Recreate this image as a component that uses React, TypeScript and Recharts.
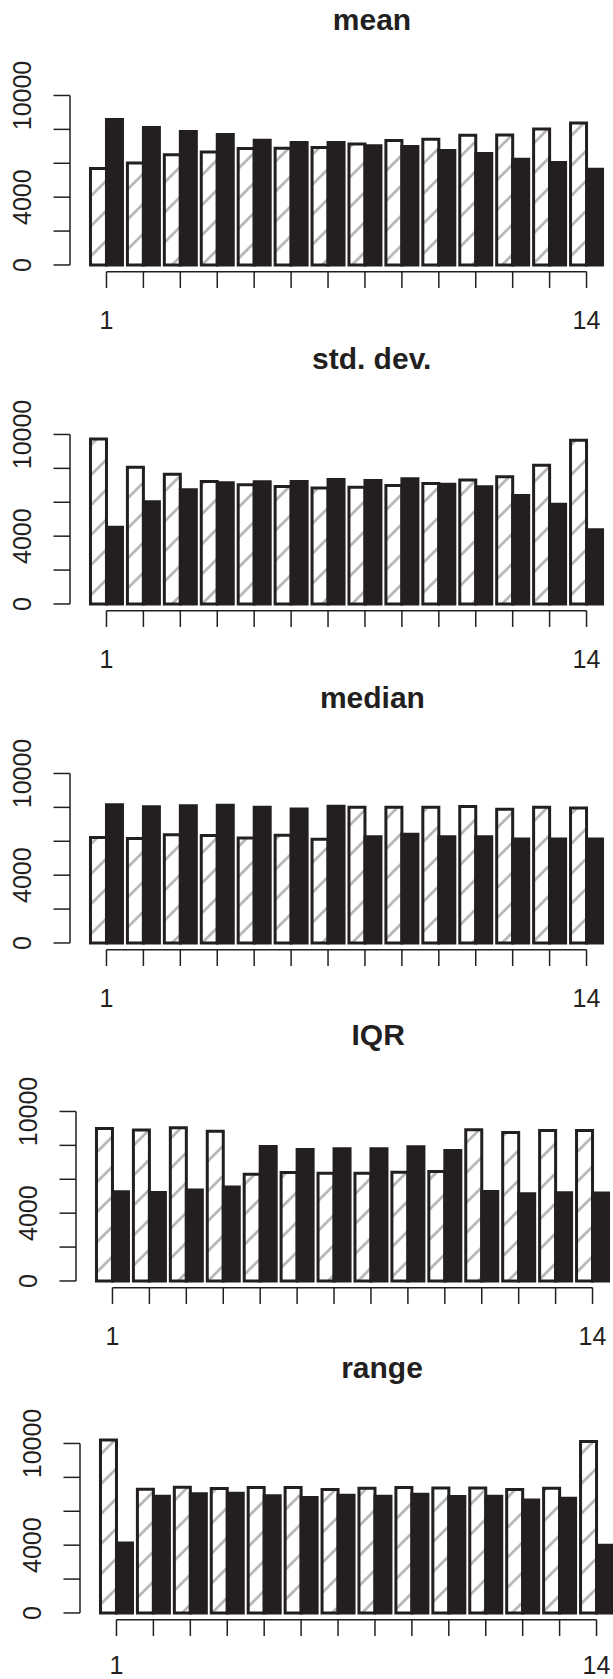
import React from 'react';
import { BarChart, Bar, XAxis, YAxis } from 'recharts';

// ---------- data ----------
const CATEGORIES = ['1', '2', '3', '4', '5', '6', '7', '8', '9', '10', '11', '12', '13', '14'];
const X_LABELS_SHOWN = ['1', '14'];
const Y_TICKS = [0, 2000, 4000, 6000, 8000, 10000];
const Y_LABELS_SHOWN = [0, 4000, 10000];
const PANEL_TITLES = ['mean', 'std. dev.', 'median', 'IQR', 'range'];

const meanHatched = [5690, 6020, 6500, 6670, 6870, 6890, 6930, 7140, 7340, 7420, 7650, 7670, 8020, 8380];
const meanSolid = [8580, 8110, 7880, 7700, 7360, 7220, 7220, 7030, 6990, 6750, 6580, 6240, 6040, 5650];

const sdHatched = [9740, 8070, 7660, 7230, 7030, 6930, 6840, 6890, 6990, 7110, 7310, 7500, 8190, 9660];
const sdSolid = [4520, 6030, 6740, 7150, 7210, 7230, 7350, 7290, 7390, 7070, 6910, 6400, 5890, 4380];

const medianHatched = [6220, 6160, 6380, 6340, 6200, 6360, 6120, 8010, 8010, 8010, 8050, 7890, 8010, 7970];
const medianSolid = [8150, 8030, 8090, 8130, 8010, 7910, 8070, 6260, 6420, 6260, 6260, 6140, 6140, 6140];

const iqrHatched = [9000, 8900, 9040, 8840, 6290, 6400, 6360, 6360, 6420, 6460, 8920, 8760, 8880, 8880];
const iqrSolid = [5260, 5220, 5360, 5540, 7940, 7760, 7800, 7800, 7920, 7700, 5280, 5150, 5200, 5190];

const rangeHatched = [10200, 7300, 7420, 7340, 7400, 7400, 7280, 7360, 7400, 7380, 7380, 7280, 7360, 10120];
const rangeSolid = [4130, 6890, 7030, 7070, 6910, 6810, 6950, 6890, 7010, 6870, 6890, 6670, 6770, 3990];

const SERIES_HATCHED = [meanHatched, sdHatched, medianHatched, iqrHatched, rangeHatched];
const SERIES_SOLID = [meanSolid, sdSolid, medianSolid, iqrSolid, rangeSolid];

// ---------- style / layout ----------
const INK = '#231f20';
const HATCH_COLOR = '#b8b8b8';
const FONT = '"Liberation Sans", Arial, Helvetica, sans-serif';
const PX_PER_10K = 169.5;
const Y_MAX = 10500;
const PLOT_H = (PX_PER_10K * Y_MAX) / 10000;
const TOP_M = 40;
const X_AXIS_H = 76;
const CHART_H = TOP_M + PLOT_H + X_AXIS_H;
const CHART_W = 613;
const Y_AXIS_W = 70;
const HATCH = 30;
const PANEL_LAYOUT = [
  { zero: 265, axisX: 70, labelDy: 64 },
  { zero: 604, axisX: 69.7, labelDy: 64 },
  { zero: 943, axisX: 70.4, labelDy: 64 },
  { zero: 1280.7, axisX: 76.2, labelDy: 64 },
  { zero: 1613.3, axisX: 80, labelDy: 61 },
];

function makeYTick() {
  const ys: number[] = [];
  return (props: any) => {
    const { x, y, payload, index, visibleTicksCount } = props;
    ys[index] = y;
    const last = index === visibleTicksCount - 1;
    let axisLine = null;
    if (last) {
      const vals = ys.filter((v) => typeof v === 'number');
      axisLine = (
        <line x1={x} x2={x} y1={Math.min(...vals)} y2={Math.max(...vals)} stroke={INK} strokeWidth={1.5} />
      );
    }
    const show = Y_LABELS_SHOWN.includes(payload.value);
    return (
      <g>
        <line x1={x - 16.5} x2={x} y1={y} y2={y} stroke={INK} strokeWidth={1.5} />
        {axisLine}
        {show && (
          <text
            x={x - 39}
            y={y}
            transform={`rotate(-90 ${x - 39} ${y})`}
            textAnchor="middle"
            fontSize={25}
            fontFamily={FONT}
            fill={INK}
          >
            {String(payload.value)}
          </text>
        )}
      </g>
    );
  };
}

function makeXTick(labelDy: number) {
  const xs: number[] = [];
  return (props: any) => {
    const { x, y, payload, index, visibleTicksCount } = props;
    xs[index] = x;
    const last = index === visibleTicksCount - 1;
    let axisLine = null;
    if (last) {
      const vals = xs.filter((v) => typeof v === 'number');
      axisLine = (
        <line x1={Math.min(...vals)} x2={Math.max(...vals)} y1={y + 6.7} y2={y + 6.7} stroke={INK} strokeWidth={1.5} />
      );
    }
    const show = X_LABELS_SHOWN.includes(String(payload.value));
    return (
      <g>
        <line x1={x} x2={x} y1={y + 6.7} y2={y + 23} stroke={INK} strokeWidth={1.5} />
        {axisLine}
        {show && (
          <text x={x} y={y + labelDy} textAnchor="middle" fontSize={25} fontFamily={FONT} fill={INK}>
            {String(payload.value)}
          </text>
        )}
      </g>
    );
  };
}

function Panel({ idx }: { idx: number }) {
  const layout = PANEL_LAYOUT[idx];
  const hatched = SERIES_HATCHED[idx];
  const solid = SERIES_SOLID[idx];
  const data = CATEGORIES.map((c, i) => ({ cat: c, a: hatched[i], b: solid[i] }));
  const yTick = React.useMemo(() => makeYTick(), []);
  const xTick = React.useMemo(() => makeXTick(layout.labelDy), [layout.labelDy]);
  const dx = layout.axisX - Y_AXIS_W;
  const top = layout.zero - PLOT_H - TOP_M;
  const pid = `hatch-${idx}`;
  return (
    <div style={{ position: 'absolute', left: dx, top, width: CHART_W, height: CHART_H }}>
      <BarChart
        width={CHART_W}
        height={CHART_H}
        data={data}
        margin={{ top: TOP_M, right: 0, bottom: 0, left: 0 }}
        barCategoryGap="6.7%"
        barGap={0}
      >
        <defs>
          <pattern id={pid} patternUnits="userSpaceOnUse" width={HATCH} height={HATCH}>
            <rect width={HATCH} height={HATCH} fill="#ffffff" />
            <path
              d={`M0,${HATCH} L${HATCH},0 M-3,3 L3,-3 M${HATCH - 3},${HATCH + 3} L${HATCH + 3},${HATCH - 3}`}
              stroke={HATCH_COLOR}
              strokeWidth={2.8}
            />
          </pattern>
        </defs>
        <XAxis
          dataKey="cat"
          type="category"
          interval={0}
          padding={{ left: 18, right: 8 }}
          height={X_AXIS_H}
          tickSize={0}
          tickMargin={0}
          axisLine={false}
          tickLine={false}
          tick={xTick}
        />
        <YAxis
          type="number"
          domain={[0, Y_MAX]}
          ticks={Y_TICKS}
          interval={0}
          width={Y_AXIS_W}
          tickSize={0}
          tickMargin={0}
          axisLine={false}
          tickLine={false}
          tick={yTick}
        />
        <Bar dataKey="a" fill={`url(#${pid})`} stroke={INK} strokeWidth={3} isAnimationActive={false} />
        <Bar dataKey="b" fill={INK} stroke={INK} strokeWidth={3} isAnimationActive={false} />
      </BarChart>
    </div>
  );
}

export default function App() {
  return (
    <div
      style={{
        position: 'absolute',
        left: 0,
        top: 0,
        width: 613,
        height: 1679,
        overflow: 'hidden',
        background: '#ffffff',
      }}
    >
      {PANEL_TITLES.map((t, i) => (
        <Panel key={t} idx={i} />
      ))}
      <svg width={613} height={1679} style={{ position: 'absolute', left: 0, top: 0, pointerEvents: 'none' }}>
        {PANEL_TITLES.map((t, i) => (
          <text
            key={t}
            x={PANEL_LAYOUT[i].axisX + 302}
            y={PANEL_LAYOUT[i].zero - 235.5}
            textAnchor="middle"
            fontSize={30}
            fontWeight="bold"
            fontFamily={FONT}
            fill={INK}
          >
            {t}
          </text>
        ))}
      </svg>
    </div>
  );
}
